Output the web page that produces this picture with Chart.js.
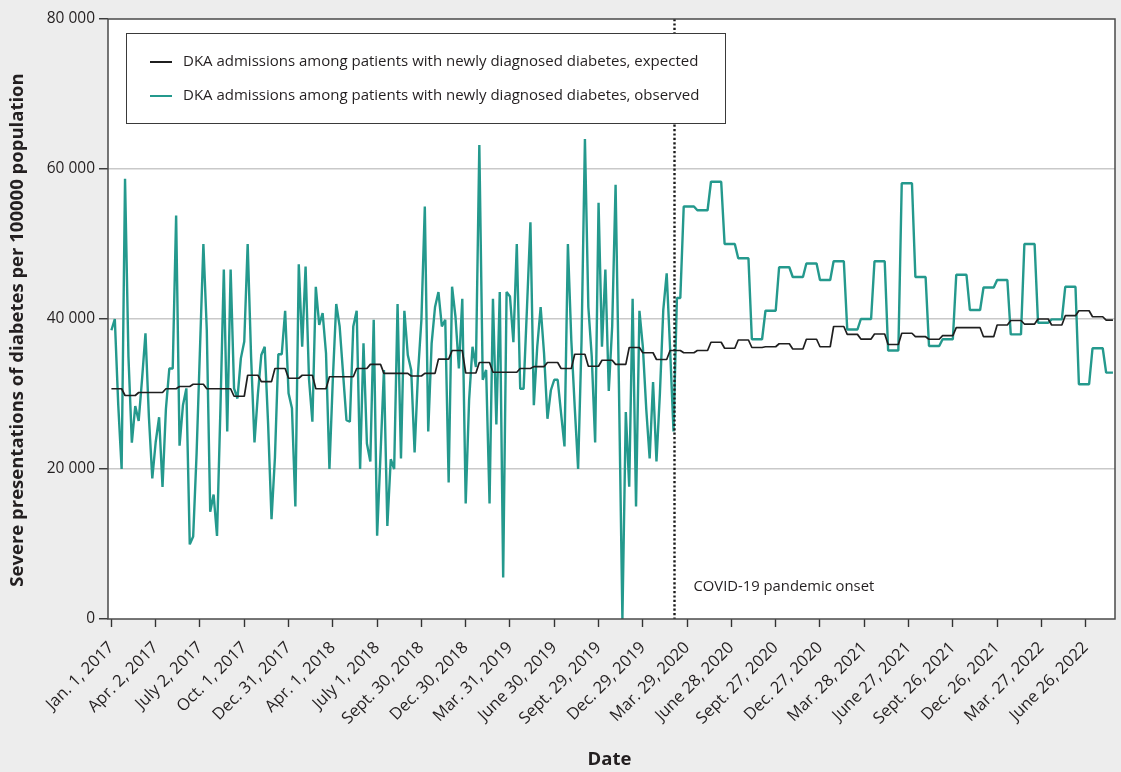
<!DOCTYPE html>
<html>
<head>
<meta charset="utf-8">
<script src="https://cdn.jsdelivr.net/npm/chart.js@4.4.0/dist/chart.umd.min.js"></script>
<style>
  html, body { margin: 0; padding: 0; background: #ededed; }
  #wrap { width: 1121px; height: 772px; position: relative; }
  canvas { display: block; }
</style>
</head>
<body>
<div id="wrap"><canvas id="chart" width="1121" height="772"></canvas></div>
<script>
// Quarterly axis labels, one every 13 weeks starting at week 0
const quarterLabels = [
  'Jan. 1, 2017', 'Apr. 2, 2017', 'July 2, 2017', 'Oct. 1, 2017', 'Dec. 31, 2017',
  'Apr. 1, 2018', 'July 1, 2018', 'Sept. 30, 2018', 'Dec. 30, 2018', 'Mar. 31, 2019',
  'June 30, 2019', 'Sept. 29, 2019', 'Dec. 29, 2019', 'Mar. 29, 2020', 'June 28, 2020',
  'Sept. 27, 2020', 'Dec. 27, 2020', 'Mar. 28, 2021', 'June 27, 2021', 'Sept. 26, 2021',
  'Dec. 26, 2021', 'Mar. 27, 2022', 'June 26, 2022'
];
const weeksPerQuarter = 13;

// Y axis tick values
const yTickValues = [0, 20000, 40000, 60000, 80000];

// Observed DKA admissions, weekly values (weeks 0-167)
const observedWeekly = [
  38500, 40000, 28600, 20000, 58700, 35000, 23500, 28400, 26400, 32000,
  38100, 27000, 18750, 23600, 26900, 17600, 28000, 33400, 33400, 53800,
  23100, 28500, 30750, 9950, 11000, 22000, 36000, 50000, 38500, 14300,
  16600, 11070, 28000, 46600, 25000, 46600, 30750, 29400, 34750, 37000,
  50000, 35000, 23550, 30000, 35200, 36300, 26000, 13300, 21500, 35300,
  35300, 41100, 30100, 28100, 15000, 47300, 36300, 47000, 32000, 26300,
  44300, 39200, 40800, 35400, 20000, 32000, 42000, 39000, 32750, 26500,
  26300, 39000, 41100, 20000, 36750, 23400, 21000, 39900, 11100, 22000,
  33200, 12400, 21300, 20000, 42000, 21400, 41100, 35200, 33200, 22200,
  32750, 39900, 55000, 25000, 36750, 41600, 43600, 39000, 39900, 18200,
  44300, 40300, 33400, 42700, 15400, 29200, 36300, 33600, 63200, 31900,
  33200, 15400, 42700, 25950, 43600, 5550, 43600, 43000, 36900, 50000,
  30700, 30700, 41600, 52900, 28500, 36300, 41600, 35400, 26700, 30500,
  31900, 31900, 27400, 23000, 50000, 37200, 28300, 20000, 37000, 64000,
  41600, 35000, 23550, 55500, 36300, 46600, 30400, 39000, 57900, 30500,
  0, 27600, 17650, 42700, 15000, 41100, 36300, 28000, 21400, 31600,
  21000, 30000, 41200, 46100, 36000, 25000, 42800, 42800
];

// Observed DKA admissions after week 167, one value per 4-week period
const observedPeriodStart = 168;
const observedPeriods = [
  55000, 54500, 58300, 50000, 48100, 37300, 41100, 46900, 45600, 47400,
  45200, 47700, 38600, 40000, 47700, 35800, 58100, 45600, 36400, 37300,
  45900, 41200, 44200, 45200, 37950, 50000, 39500, 39950, 44300, 31300,
  36100, 32850
];

// Expected DKA admissions, one value per 4-week period from week 0
const expectedPeriods = [
  30700, 29800, 30200, 30200, 30700, 31000, 31300, 30700, 30700, 29700,
  32500, 31650, 33400, 32100, 32500, 30700, 32300, 32300, 33400, 33950,
  32750, 32750, 32400, 32750, 34650, 35800, 32800, 34200, 32900, 32900,
  33400, 33650, 34200, 33400, 35300, 33700, 34500, 33950, 36200, 35500,
  34600, 35800, 35500, 35800, 36900, 36100, 37200, 36200, 36300, 36700,
  36000, 37300, 36300, 39000, 37950, 37330, 38000, 36600, 38100, 37640,
  37300, 37780, 38840, 38840, 37640, 39200, 39800, 39330, 40000, 39200,
  40440, 41100, 40300, 39860
];

const lastWeek = 294;        // final weekly observation
const onsetWeek = 165;       // COVID-19 pandemic onset
const periodLength = 4;

const labelExpected = 'DKA admissions among patients with newly diagnosed diabetes, expected';
const labelObserved = 'DKA admissions among patients with newly diagnosed diabetes, observed';
const onsetText = 'COVID-19 pandemic onset';
const yTitle = 'Severe presentations of diabetes per 100000 population';
const xTitle = 'Date';

const TEXT = '#231f20';
const TEAL = '#24998d';
const FONT = '"Open Sans", "Noto Sans", "DejaVu Sans", sans-serif';

// Weekly points: each period value holds for every week in that period
function periodsToWeeks(values, startWeek) {
  const pts = [];
  values.forEach((v, k) => {
    for (let j = 0; j < periodLength; j++) {
      const w = startWeek + k * periodLength + j;
      if (w <= lastWeek) pts.push({ x: w, y: v });
    }
  });
  return pts;
}

const observedPoints = observedWeekly.map((v, w) => ({ x: w, y: v }))
  .concat(periodsToWeeks(observedPeriods, observedPeriodStart));
const expectedPoints = periodsToWeeks(expectedPeriods, 0);

function spaced(v) {
  return String(v).replace(/\B(?=(\d{3})+(?!\d))/g, ' ');
}

// Plot background, frame, onset marker, legend and axis titles
const decorations = {
  id: 'decorations',
  beforeDraw(chart) {
    const { ctx, chartArea: a } = chart;
    ctx.save();
    ctx.fillStyle = '#ffffff';
    ctx.fillRect(a.left, a.top, a.right - a.left, a.bottom - a.top);
    ctx.restore();
  },
  afterDatasetsDraw(chart) {
    const { ctx, chartArea: a, scales } = chart;
    const x = Math.round(scales.x.getPixelForValue(onsetWeek)) + 0.5;
    ctx.save();
    ctx.strokeStyle = '#1a1a1a';
    ctx.lineWidth = 2.4;
    ctx.setLineDash([2.2, 2.2]);
    ctx.beginPath();
    ctx.moveTo(x, a.top);
    ctx.lineTo(x, a.bottom);
    ctx.stroke();
    ctx.restore();

    ctx.save();
    ctx.fillStyle = TEXT;
    ctx.font = '14.8px ' + FONT;
    ctx.textAlign = 'left';
    ctx.textBaseline = 'middle';
    ctx.fillText(onsetText, x + 19, scales.y.getPixelForValue(4300));
    ctx.restore();
  },
  afterDraw(chart) {
    const { ctx, chartArea: a } = chart;
    // frame
    ctx.save();
    ctx.strokeStyle = '#4a4a4a';
    ctx.lineWidth = 1.5;
    ctx.strokeRect(a.left, a.top, a.right - a.left, a.bottom - a.top);
    ctx.restore();

    // legend
    const ds = chart.data.datasets;
    const box = { x: 126.5, y: 33.5, w: 599, h: 90 };
    ctx.save();
    ctx.fillStyle = '#ffffff';
    ctx.fillRect(box.x, box.y, box.w, box.h);
    ctx.strokeStyle = '#3a3a3a';
    ctx.lineWidth = 1;
    ctx.strokeRect(box.x, box.y, box.w, box.h);
    const rows = [62, 96];
    ds.forEach((d, i) => {
      ctx.strokeStyle = d.borderColor;
      ctx.lineWidth = 2;
      ctx.beginPath();
      ctx.moveTo(150, rows[i]);
      ctx.lineTo(172, rows[i]);
      ctx.stroke();
      ctx.fillStyle = TEXT;
      ctx.font = '15px ' + FONT;
      ctx.textAlign = 'left';
      ctx.textBaseline = 'middle';
      ctx.fillText(d.label, 183, rows[i]);
    });
    ctx.restore();

    // axis titles
    ctx.save();
    ctx.fillStyle = TEXT;
    ctx.font = 'bold 18.5px ' + FONT;
    ctx.textAlign = 'center';
    ctx.textBaseline = 'middle';
    ctx.fillText(xTitle, (a.left + a.right) / 2 - 2, 760);
    ctx.translate(18, 330);
    ctx.rotate(-Math.PI / 2);
    ctx.fillText(yTitle, 0, 0);
    ctx.restore();
  }
};

new Chart(document.getElementById('chart'), {
  type: 'line',
  data: {
    datasets: [
      {
        label: labelExpected,
        data: expectedPoints,
        borderColor: '#1f1f1f',
        borderWidth: 1.7,
        pointRadius: 0,
        tension: 0,
        borderJoinStyle: 'bevel'
      },
      {
        label: labelObserved,
        data: observedPoints,
        borderColor: TEAL,
        borderWidth: 2.4,
        pointRadius: 0,
        tension: 0,
        borderJoinStyle: 'bevel'
      }
    ]
  },
  options: {
    responsive: false,
    animation: false,
    devicePixelRatio: 1,
    layout: { padding: { top: 19, right: 6, left: 0, bottom: 0 } },
    plugins: {
      legend: { display: false },
      tooltip: { enabled: false },
      title: { display: false }
    },
    scales: {
      x: {
        type: 'linear',
        min: -1,
        max: 294.6,
        afterBuildTicks(scale) {
          scale.ticks = quarterLabels.map((_, i) => ({ value: i * weeksPerQuarter }));
        },
        afterFit(scale) { scale.height = 153; },
        border: { display: false },
        grid: {
          drawOnChartArea: false,
          drawTicks: true,
          tickLength: 8,
          tickWidth: 1.4,
          tickColor: '#333333',
          color: '#333333'
        },
        ticks: {
          autoSkip: false,
          maxRotation: 45,
          minRotation: 45,
          padding: 11,
          color: TEXT,
          font: { family: FONT, size: 16.5 },
          callback: (v, i) => quarterLabels[i]
        }
      },
      y: {
        min: 0,
        max: 80000,
        afterBuildTicks(scale) {
          scale.ticks = yTickValues.map(v => ({ value: v }));
        },
        afterFit(scale) { scale.width = 108; },
        border: { display: false },
        grid: {
          color: (c) => (c.tick && (c.tick.value === 0 || c.tick.value === 80000)) ? 'rgba(0,0,0,0)' : '#c9c9c9',
          lineWidth: 1.5,
          drawTicks: true,
          tickLength: 9,
          tickWidth: 1.4,
          tickColor: '#333333'
        },
        ticks: {
          padding: 4,
          color: TEXT,
          font: { family: FONT, size: 15.5 },
          callback: (v) => spaced(v)
        }
      }
    }
  },
  plugins: [decorations]
});
</script>
</body>
</html>
